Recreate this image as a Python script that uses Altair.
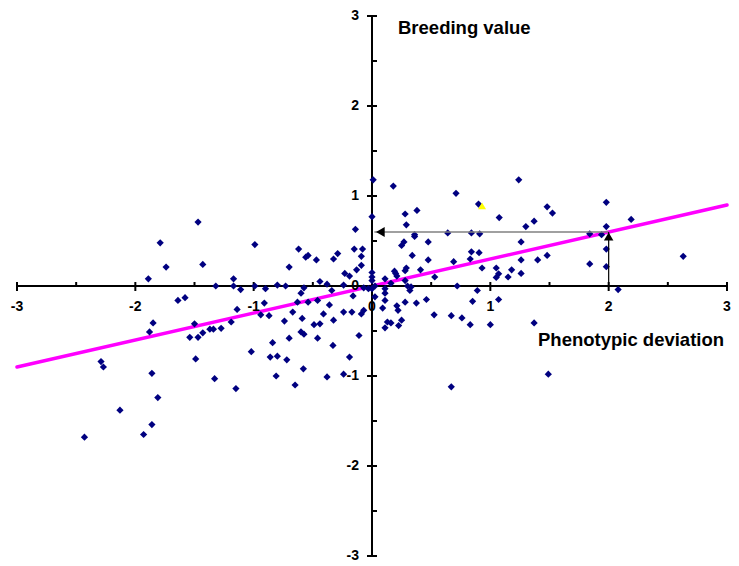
import altair as alt
import pandas as pd

# scatter data: phenotypic deviation (x) vs breeding value (y)
pts_x = [
    -1.47, -1.79, -1.74, -1.43, -1.89, -1.32, -1.17, -1.17, -1.11,
    -1.64, -1.58, -1.14, -1.85, -1.88, -1.50, -1.54, -1.47, -1.43, -1.37, -1.34, -1.275, -1.19,
    -2.29, -2.27, -1.49, -1.86, -1.33, -1.15, -1.81, -2.13, -1.86, -1.93, -2.43,
    0.01, 0.0, -0.14, -0.99, -0.62, -0.15, -0.08, -0.54, -0.56, -0.29, -0.325, -0.47, -0.09,
    -0.70, -0.09, -0.13, -0.23, -0.19, -0.44, -0.38, -0.24, 0.0, 0.0, -0.99, -0.80, -0.73,
    -0.90, -0.575, -0.60, 0.0,
    -0.34, -0.16, -0.07, -0.03, -0.91, -0.94, -0.87, -0.63, -0.54, -0.46, -0.36, -0.24, -0.17,
    -0.07, -0.09, -0.67, -0.41, -0.74, -0.59, -0.325, -0.49, -0.44, -0.60, -0.575, -0.70, -0.46,
    -0.84, -0.11, -0.33, -1.02, -0.86, -0.80, -0.72, -0.19, -0.58, -0.81, -0.38, -0.24, -0.65,
    0.18, 0.71, 0.90, 0.28, 0.38, 0.29, 1.075, 0.36, 0.36, 0.64, 0.84, 0.91, 0.27, 0.25, 0.475,
    0.34, 0.475, 0.84, 0.905, 0.83, 0.69, 0.93, 1.05, 1.07, 1.05, 0.19, 0.21, 0.20, 0.29, 0.28,
    0.41, 0.53, 0.0, 0.11, 0.16, 0.28, 0.30, 0.33, 0.72, 0.89, 0.025, 0.11, 0.32,
    0.025, 0.11, 0.11, 0.09, 0.21, 0.22, 0.28, 0.375, 0.46, 0.525, 0.67, 0.76, 0.83, 0.85, 1.0,
    1.07, 0.25, 0.225, 0.13, 0.16, 0.11, 0.67,
    1.24, 1.98, 1.48, 1.525, 1.37, 1.30, 2.19, 1.98, 1.84, 1.94, 1.26, 1.98, 1.26, 1.40, 1.48,
    1.84, 1.98, 2.63, 1.18, 1.15, 1.26, 2.08, 1.37, 1.49,
]
pts_y = [
    0.71, 0.48, 0.21, 0.24, 0.08, 0.0, 0.08, 0.0, -0.04,
    -0.16, -0.13, -0.26, -0.41, -0.51, -0.42, -0.57, -0.57, -0.52, -0.48, -0.48, -0.47, -0.40,
    -0.84, -0.90, -0.81, -0.97, -1.03, -1.14, -1.24, -1.38, -1.54, -1.65, -1.68,
    1.18, 0.77, 0.63, 0.46, 0.41, 0.41, 0.41, 0.34, 0.32, 0.36, 0.30, 0.29, 0.33,
    0.21, 0.23, 0.18, 0.14, 0.11, 0.05, 0.02, 0.01, 0.10, 0.06, 0.0, 0.01, 0.0,
    -0.03, -0.02, -0.08, -0.03,
    -0.05, -0.11, -0.02, -0.03, -0.19, -0.32, -0.33, -0.18, -0.18, -0.16, -0.21, -0.29, -0.29,
    -0.27, -0.31, -0.29, -0.31, -0.39, -0.36, -0.38, -0.43, -0.42, -0.51, -0.535, -0.58, -0.58,
    -0.63, -0.55, -0.66, -0.73, -0.79, -0.78, -0.82, -0.79, -0.92, -1.00, -1.01, -0.98, -1.10,
    1.11, 1.03, 0.91, 0.80, 0.84, 0.68, 0.76, 0.57, 0.55, 0.59, 0.59, 0.58, 0.49, 0.45, 0.49,
    0.34, 0.29, 0.38, 0.37, 0.30, 0.27, 0.20, 0.20, 0.135, 0.095, 0.165, 0.11, 0.14, 0.20, 0.17,
    0.18, 0.10, 0.15, 0.08, 0.03, 0.06, 0.0, -0.01, 0.0, -0.05, 0.0, -0.03, -0.05,
    -0.12, -0.08, -0.16, -0.245, -0.22, -0.27, -0.18, -0.19, -0.15, -0.32, -0.33, -0.355, -0.43, -0.17, -0.43,
    -0.15, -0.38, -0.44, -0.40, -0.41, -0.465, -1.12,
    1.18, 0.93, 0.88, 0.81, 0.72, 0.66, 0.74, 0.66, 0.58, 0.57, 0.49, 0.41, 0.29, 0.29, 0.34,
    0.245, 0.215, 0.33, 0.18, 0.10, 0.14, -0.04, -0.41, -0.98,
]

# highlighted point
hi_x = [0.93]
hi_y = [0.89]

# regression line
line_x = [-3, 3]
line_y = [-0.9, 0.9]

# arrows: horizontal (to breeding value axis) and vertical (from phenotype axis)
arrow_px = [2.0]
arrow_py = [0.6]
arrow_tip_x = [0.02]

# axis ticks and labels
major_ticks = [-3, -2, -1, 0, 1, 2, 3]
minor_ticks = [-2.5, -1.5, -0.5, 0.5, 1.5, 2.5]
tick_labels = ["-3", "-2", "-1", "0", "1", "2", "3"]

FONT = "Liberation Sans"
W, H = 710, 540

xs = alt.Scale(domain=[-3, 3], nice=False, zero=False)
ys = alt.Scale(domain=[-3, 3], nice=False, zero=False)
X = lambda f: alt.X(f, type="quantitative", scale=xs, axis=None)
Y = lambda f: alt.Y(f, type="quantitative", scale=ys, axis=None)

pts = pd.DataFrame({"x": pts_x, "y": pts_y})
hi = pd.DataFrame({"x": hi_x, "y": hi_y})
ln = pd.DataFrame({"x": line_x, "y": line_y})
arr = pd.DataFrame({"x": arrow_px, "y": arrow_py, "tip": arrow_tip_x, "zero": [0.0]})
maj = pd.DataFrame({"v": major_ticks, "lab": tick_labels, "zero": [0.0] * len(major_ticks)})
mnr = pd.DataFrame({"v": minor_ticks, "zero": [0.0] * len(minor_ticks)})
axes = pd.DataFrame({"lo": [-3.0], "hi": [3.0], "zero": [0.0]})

x_axis = alt.Chart(axes).mark_rule(color="black", strokeWidth=2).encode(
    x=X("lo"), x2="hi", y=Y("zero"))
y_axis = alt.Chart(axes).mark_rule(color="black", strokeWidth=2).encode(
    y=Y("lo"), y2="hi", x=X("zero"))

x_major = alt.Chart(maj).mark_point(shape="M0,-1L0,1", size=81, filled=False, stroke="black",
                                    strokeWidth=2, opacity=1, yOffset=0.5).encode(x=X("v"), y=Y("zero"))
x_minor = alt.Chart(mnr).mark_point(shape="M0,-1L0,0", size=64, filled=False, stroke="black",
                                    strokeWidth=2, opacity=1).encode(x=X("v"), y=Y("zero"))
y_major = alt.Chart(maj).mark_point(shape="M-1,0L1,0", size=100, filled=False, stroke="black",
                                    strokeWidth=2, opacity=1).encode(y=Y("v"), x=X("zero"))
y_minor = alt.Chart(mnr).mark_point(shape="M0,0L1,0", size=100, filled=False, stroke="black",
                                    strokeWidth=2, opacity=1).encode(y=Y("v"), x=X("zero"))

x_labels = alt.Chart(maj).mark_text(font=FONT, fontSize=14, fontWeight="bold", color="black",
                                    baseline="middle", align="center", dy=21).encode(
    x=X("v"), y=Y("zero"), text="lab:N")
y_labels = alt.Chart(maj).mark_text(font=FONT, fontSize=14, fontWeight="bold", color="black",
                                    baseline="middle", align="right", dx=-13).encode(
    y=Y("v"), x=X("zero"), text="lab:N")

reg = alt.Chart(ln).mark_line(color="#FF00FF", strokeWidth=3.5, strokeCap="round").encode(
    x=X("x"), y=Y("y"))

scatter = alt.Chart(pts).mark_point(shape="diamond", size=52, filled=True, color="#000080",
                                    opacity=1, strokeWidth=0).encode(x=X("x"), y=Y("y"))

highlight = alt.Chart(hi).mark_point(shape="triangle-up", size=64, filled=True, color="#FFFF00",
                                     opacity=1, strokeWidth=0).encode(x=X("x"), y=Y("y"))

h_line = alt.Chart(arr).mark_rule(color="#808080", strokeWidth=1.3).encode(
    x=X("x"), x2="tip", y=Y("y"))
v_line = alt.Chart(arr).mark_rule(color="black", strokeWidth=1.2).encode(
    x=X("x"), y=Y("zero"), y2="y")
h_head = alt.Chart(arr).mark_point(shape="triangle-left", size=100, filled=True, color="black",
                                   opacity=1, strokeWidth=0, xOffset=6).encode(x=X("tip"), y=Y("y"))
v_head = alt.Chart(arr).mark_point(shape="triangle-up", size=90, filled=True, color="black",
                                   opacity=1, strokeWidth=0, yOffset=4.5).encode(x=X("x"), y=Y("y"))

title_y = alt.Chart(axes).mark_text(text="Breeding value", font=FONT, fontSize=18.5, fontWeight="bold",
                                    align="left", baseline="alphabetic", color="black").encode(
    x=alt.value(381), y=alt.value(18))
title_x = alt.Chart(axes).mark_text(text="Phenotypic deviation", font=FONT, fontSize=18.5,
                                    fontWeight="bold", align="left", baseline="alphabetic",
                                    color="black").encode(x=alt.value(521), y=alt.value(330))

chart = alt.layer(
    reg, x_axis, y_axis, x_major, x_minor, y_major, y_minor, x_labels, y_labels,
    scatter, h_line, v_line, h_head, v_head, highlight, title_y, title_x
).properties(
    width=W, height=H, autosize="none",
    padding={"left": 9, "top": 8, "right": 4, "bottom": 9},
    background="white",
).configure_view(stroke=None)

chart.save("out.html", embed_options={"renderer": "svg", "actions": False})
